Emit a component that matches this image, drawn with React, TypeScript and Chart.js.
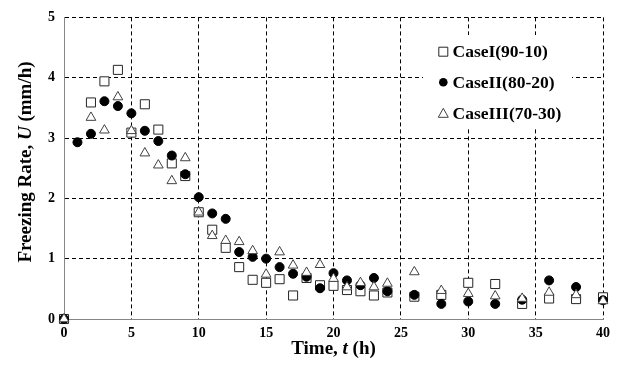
import React, { useEffect, useRef } from 'react';
import { Chart, registerables } from 'chart.js';

Chart.register(...registerables);

// ---- data ----
const caseITimes = [0, 2, 3, 4, 5, 6, 7, 8, 9, 10, 11, 12, 13, 14, 15, 16, 17, 18, 19, 20, 21, 22, 23, 24, 26, 28, 30, 32, 34, 36, 38, 40];
const caseIValues = [0, 3.59, 3.94, 4.13, 3.09, 3.56, 3.14, 2.58, 2.37, 1.77, 1.48, 1.18, 0.86, 0.65, 0.60, 0.66, 0.39, 0.68, 0.56, 0.55, 0.48, 0.46, 0.39, 0.44, 0.37, 0.40, 0.60, 0.58, 0.25, 0.34, 0.33, 0.36];

const caseIITimes = [0, 1, 2, 3, 4, 5, 6, 7, 8, 9, 10, 11, 12, 13, 14, 15, 16, 17, 18, 19, 20, 21, 22, 23, 24, 26, 28, 30, 32, 34, 36, 38, 40];
const caseIIValues = [0, 2.93, 3.07, 3.61, 3.53, 3.41, 3.12, 2.95, 2.71, 2.40, 2.02, 1.75, 1.66, 1.11, 1.03, 1.00, 0.86, 0.75, 0.70, 0.51, 0.76, 0.64, 0.56, 0.68, 0.46, 0.40, 0.25, 0.29, 0.25, 0.32, 0.64, 0.53, 0.31];

const caseIIITimes = [0, 2, 3, 4, 5, 6, 7, 8, 9, 10, 11, 12, 13, 14, 15, 16, 17, 18, 19, 20, 21, 22, 23, 24, 26, 28, 30, 32, 34, 36, 38, 40];
const caseIIIValues = [0, 3.34, 3.13, 3.68, 3.12, 2.75, 2.55, 2.29, 2.67, 1.77, 1.38, 1.30, 1.28, 1.13, 0.74, 1.11, 0.89, 0.77, 0.90, 0.67, 0.53, 0.60, 0.53, 0.59, 0.78, 0.47, 0.42, 0.38, 0.34, 0.44, 0.40, 0.30];

const seriesLabels = ['CaseI(90-10)', 'CaseII(80-20)', 'CaseIII(70-30)'];
const xTicks = [0, 5, 10, 15, 20, 25, 30, 35, 40];
const yTicks = [0, 1, 2, 3, 4, 5];
const xTitleParts = [['Time, ', false], ['t', true], [' (h)', false]] as [string, boolean][];
const yTitleParts = [['Freezing Rate, ', false], ['U', true], [' (mm/h)', false]] as [string, boolean][];

const FONT = "'Liberation Serif', 'Times New Roman', serif";

const toPoints = (xs: number[], ys: number[]) => xs.map((x, i) => ({ x, y: ys[i] }));

function drawParts(ctx: CanvasRenderingContext2D, parts: [string, boolean][], size: number, cx: number, cy: number) {
  const widths = parts.map(([t, it]) => {
    ctx.font = `${it ? 'italic ' : ''}bold ${size}px ${FONT}`;
    return ctx.measureText(t).width;
  });
  const total = widths.reduce((a, b) => a + b, 0);
  let x = cx - total / 2;
  ctx.textBaseline = 'alphabetic';
  ctx.textAlign = 'left';
  parts.forEach(([t, it], i) => {
    ctx.font = `${it ? 'italic ' : ''}bold ${size}px ${FONT}`;
    ctx.fillText(t, x, cy);
    x += widths[i];
  });
}

const titlesPlugin = {
  id: 'axisTitles',
  afterDraw(chart: any) {
    const { ctx, chartArea } = chart;
    ctx.save();
    ctx.fillStyle = '#000';
    drawParts(ctx, xTitleParts, 19, (chartArea.left + chartArea.right) / 2, 354);
    ctx.translate(31, 162);
    ctx.rotate(-Math.PI / 2);
    drawParts(ctx, yTitleParts, 19, 0, 0);
    ctx.restore();
  },
};

const legendPlugin = {
  id: 'boxLegend',
  beforeDatasetsDraw(chart: any) {
    const { ctx } = chart;
    ctx.save();
    ctx.fillStyle = '#fff';
    ctx.fillRect(423, 35, 149, 92);
    const rows = [51.7, 82.3, 113.3];
    const mx = 443.3;
    // square
    ctx.lineWidth = 1;
    ctx.strokeStyle = '#262626';
    ctx.fillStyle = '#fff';
    ctx.beginPath();
    ctx.rect(mx - 4.5, rows[0] - 4.5, 9, 9);
    ctx.fill();
    ctx.stroke();
    // circle
    ctx.fillStyle = '#000';
    ctx.beginPath();
    ctx.arc(mx, rows[1], 4.3, 0, Math.PI * 2);
    ctx.fill();
    // triangle
    ctx.strokeStyle = '#404040';
    ctx.fillStyle = '#fff';
    ctx.beginPath();
    ctx.moveTo(mx, rows[2] - 5);
    ctx.lineTo(mx + 5, rows[2] + 4);
    ctx.lineTo(mx - 5, rows[2] + 4);
    ctx.closePath();
    ctx.fill();
    ctx.stroke();
    ctx.fillStyle = '#000';
    ctx.font = `bold 17.5px ${FONT}`;
    ctx.textBaseline = 'middle';
    ctx.textAlign = 'left';
    seriesLabels.forEach((l, i) => ctx.fillText(l, 452.5, rows[i] + 1));
    ctx.restore();
  },
};

export default function App() {
  const ref = useRef<HTMLCanvasElement>(null);
  useEffect(() => {
    if (!ref.current) return;
    const chart = new Chart(ref.current, {
      type: 'scatter',
      data: {
        datasets: [
          {
            label: seriesLabels[0],
            data: toPoints(caseITimes, caseIValues),
            pointStyle: 'rect',
            pointRadius: 6.4,
            pointHoverRadius: 6.4,
            backgroundColor: '#fff',
            borderColor: '#262626',
            borderWidth: 1,
            order: 3,
            clip: false as any,
          },
          {
            label: seriesLabels[1],
            data: toPoints(caseIITimes, caseIIValues),
            pointStyle: 'circle',
            pointRadius: 4.5,
            pointHoverRadius: 4.5,
            backgroundColor: '#000',
            borderColor: '#000',
            borderWidth: 1,
            order: 2,
            clip: false as any,
          },
          {
            label: seriesLabels[2],
            data: toPoints(caseIIITimes, caseIIIValues),
            pointStyle: 'triangle',
            pointRadius: 5.6,
            pointHoverRadius: 5.6,
            backgroundColor: '#fff',
            borderColor: '#404040',
            borderWidth: 1,
            order: 1,
            clip: false as any,
          },
        ],
      },
      options: {
        animation: false,
        responsive: false,
        layout: { padding: { top: 12, right: 17, left: 0, bottom: 0 } },
        plugins: {
          legend: { display: false },
          tooltip: { enabled: false },
          title: { display: false },
        },
        scales: {
          x: {
            type: 'linear',
            min: 0,
            max: 40,
            afterFit: (s: any) => { s.height = 52; },
            afterBuildTicks: (s: any) => { s.ticks = xTicks.map((v) => ({ value: v })); },
            ticks: {
              padding: 6,
              color: '#000',
              font: { family: FONT, size: 14, weight: 'bold' },
              maxRotation: 0,
            },
            grid: { color: '#000', lineWidth: 1, drawTicks: false },
            border: { display: true, color: '#868686', width: 1, dash: [4, 3] },
          },
          y: {
            type: 'linear',
            min: 0,
            max: 5,
            afterFit: (s: any) => { s.width = 64; },
            afterBuildTicks: (s: any) => { s.ticks = yTicks.map((v) => ({ value: v })); },
            ticks: {
              padding: 9,
              color: '#000',
              font: { family: FONT, size: 14, weight: 'bold' },
            },
            grid: { color: '#000', lineWidth: 1, drawTicks: false },
            border: { display: true, color: '#868686', width: 1, dash: [4, 3] },
          },
        },
      },
      plugins: [legendPlugin, titlesPlugin],
    });
    return () => chart.destroy();
  }, []);
  return (
    <div style={{ position: 'absolute', left: 0, top: 0, width: 620, height: 371, background: '#fff' }}>
      <canvas ref={ref} width={620} height={371} />
    </div>
  );
}
